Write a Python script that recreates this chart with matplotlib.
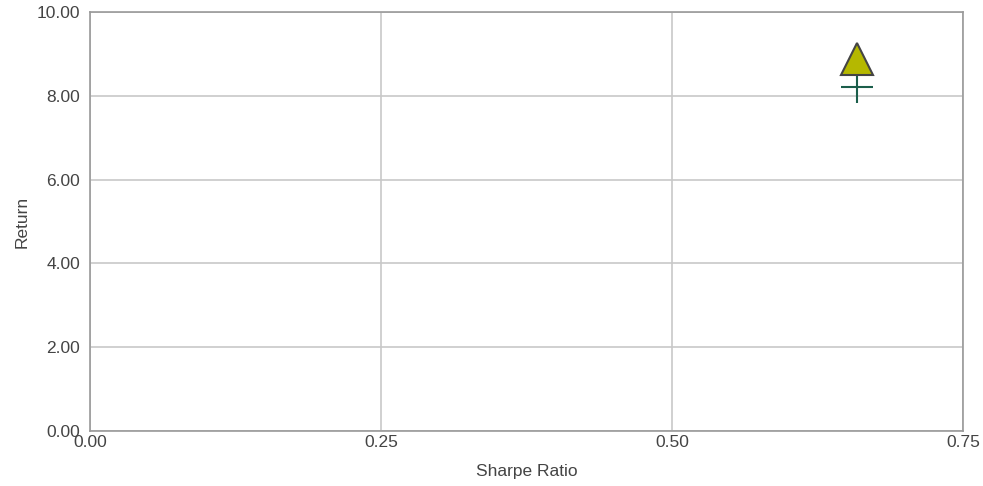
import matplotlib
matplotlib.use("Agg")
import matplotlib.pyplot as plt

plt.rcParams["font.family"] = ["Liberation Sans", "DejaVu Sans"]

# data
sharpe = [0.659, 0.659]
returns = [8.87, 8.21]
markers = ["^", "+"]
fills = ["#b5b800", "#1b5e4b"]

x_ticks = [0.0, 0.25, 0.5, 0.75]
y_ticks = [0, 2, 4, 6, 8, 10]

text_color = "#444444"

fig = plt.figure(figsize=(9.83, 4.86), dpi=100)
ax = fig.add_axes([0.0916, 0.1132, 0.888, 0.862])

ax.grid(True, color="#c8c8c8", linewidth=1.2, zorder=0)
ax.set_axisbelow(True)

# plus first so the triangle sits on top of it
ax.plot(sharpe[1], returns[1], marker=markers[1], markersize=23,
        markeredgewidth=1.5, color=fills[1], linestyle="none", zorder=3)
ax.plot(sharpe[0], returns[0], marker=markers[0], markersize=23,
        markerfacecolor=fills[0], markeredgecolor="#444444",
        markeredgewidth=1.5, linestyle="none", zorder=4)

ax.set_xlim(0, 0.75)
ax.set_ylim(0, 10)
ax.set_xticks(x_ticks)
ax.set_xticklabels([f"{t:.2f}" for t in x_ticks])
ax.set_yticks(y_ticks)
ax.set_yticklabels([f"{t:.2f}" for t in y_ticks])

ax.tick_params(length=0, labelsize=12.5, colors=text_color)
ax.tick_params(axis="x", pad=3)
ax.tick_params(axis="y", pad=7)
for s in ax.spines.values():
    s.set_color("#999999")
    s.set_linewidth(1.2)

ax.set_xlabel("Sharpe Ratio", fontsize=12.5, color=text_color, labelpad=10)
ax.set_ylabel("Return", fontsize=12.5, color=text_color, labelpad=5)

fig.savefig("out.png", dpi=100)
